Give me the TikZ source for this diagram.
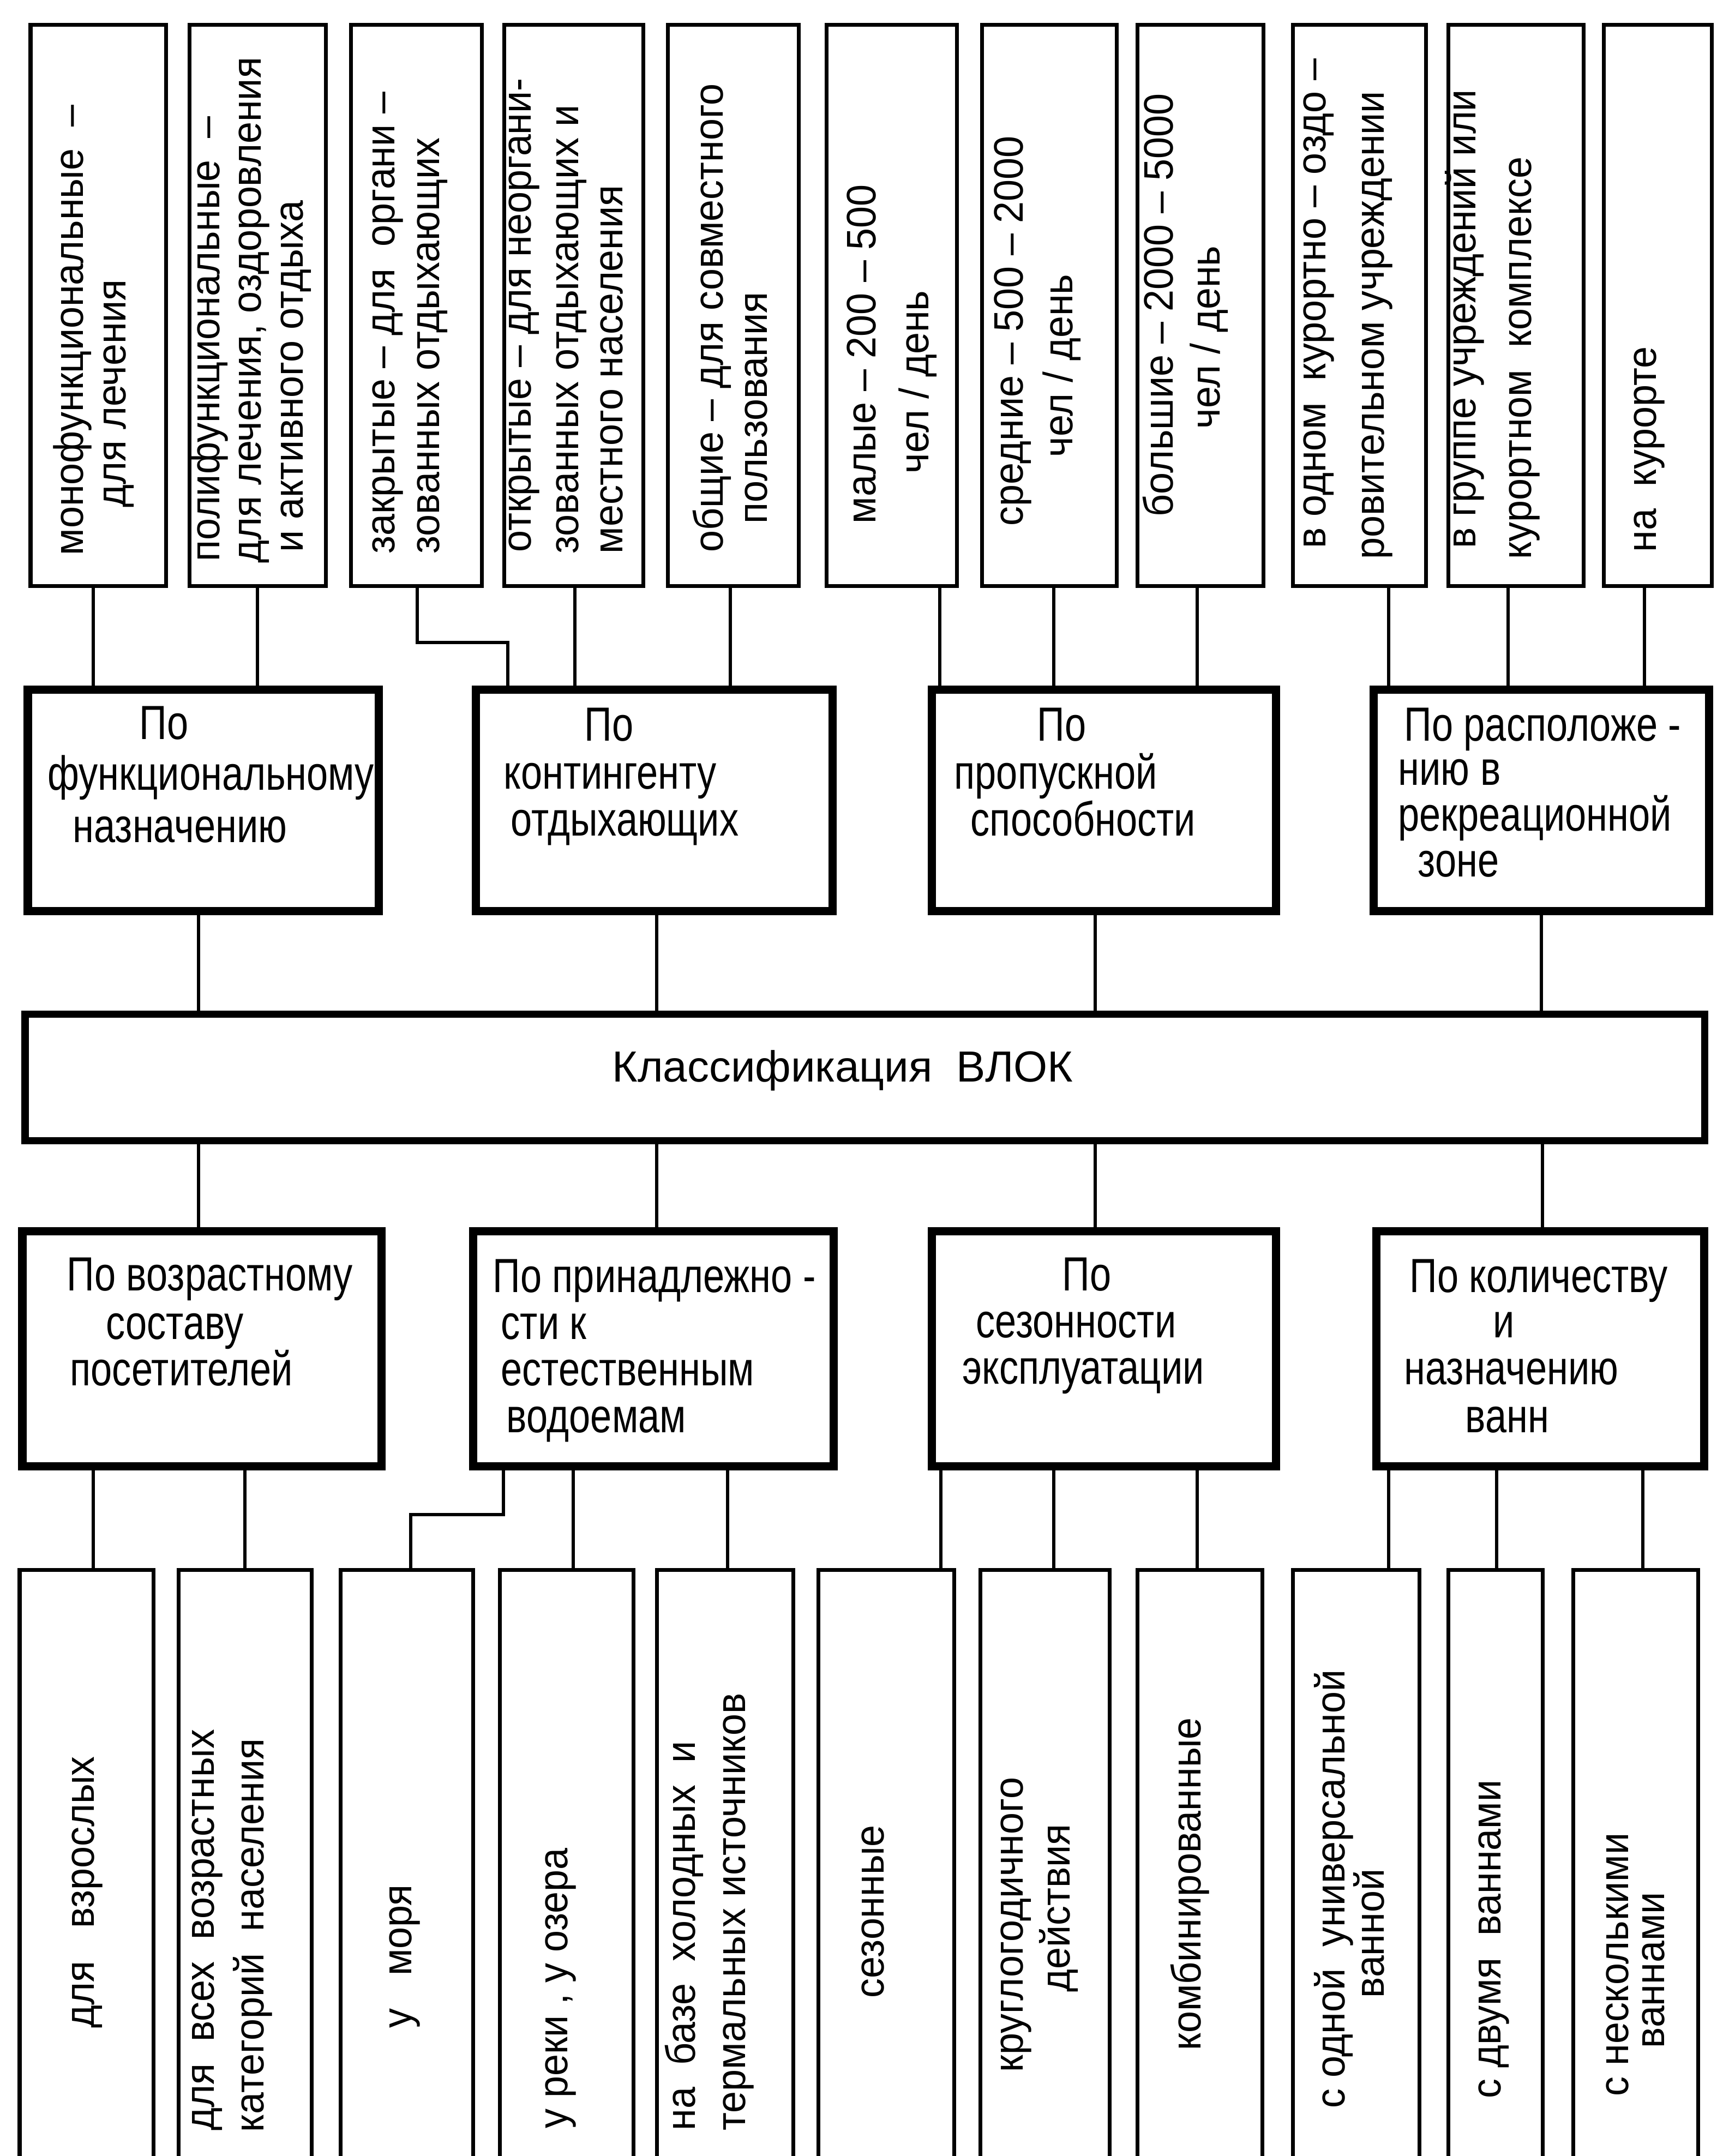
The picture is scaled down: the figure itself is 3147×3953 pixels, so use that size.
\documentclass[tikz,border=0pt]{standalone}
\usepackage{fontspec}
\setmainfont{Liberation Sans}
\newfontfamily\lblfont{Liberation Sans}[FakeStretch=0.95]
\newfontfamily\catfont{Liberation Sans}[FakeStretch=0.80]
\usetikzlibrary{fit}

\tikzset{
  thinbox/.style={draw, line width=0.07cm, inner sep=0pt, outer sep=0pt},
  catbox/.style={draw, line width=0.15cm, inner sep=0pt, outer sep=0pt},
  mainbox/.style={draw, line width=0.13cm, inner sep=0pt, outer sep=0pt},
  link/.style={line width=0.065cm},
  vtext/.style={rotate=90, anchor=mid west, inner sep=0pt,
    font=\lblfont\fontsize{21.5}{26}\selectfont},
  ctext/.style={anchor=base west, inner sep=0pt,
    font=\catfont\fontsize{25}{30}\selectfont},
  mtext/.style={anchor=base west, inner sep=0pt,
    font=\fontsize{22.7}{27}\selectfont},
}

% box spanning x1..x2, y1..y2
\newcommand\boxat[6]{\node[#1, fit={(#3,#5) (#4,#6)}] (#2) {};}
% straight vertical link at abscissa #3
\newcommand\vlink[3]{%
  \coordinate (x-#1-#2) at (#3,0);
  \draw[link] (#1.south -| x-#1-#2) -- (#2.north -| x-#1-#2);}

\begin{document}
\begin{tikzpicture}[x=0.01cm, y=-0.01cm]
\useasboundingbox (0,0) rectangle (3147,3953);
\clip (0,0) rectangle (3147,3953);

% ---------- upper row of subtypes ----------
\boxat{thinbox}{T1}{56}{304}{45}{1074}
\boxat{thinbox}{T2}{347}{597}{45}{1074}
\boxat{thinbox}{T3}{643}{883}{45}{1074}
\boxat{thinbox}{T4}{924}{1179}{45}{1074}
\boxat{thinbox}{T5}{1224}{1464}{45}{1074}
\boxat{thinbox}{T6}{1515}{1754}{45}{1074}
\boxat{thinbox}{T7}{1800}{2047}{45}{1074}
\boxat{thinbox}{T8}{2085}{2316}{45}{1074}
\boxat{thinbox}{T9}{2370}{2614}{45}{1074}
\boxat{thinbox}{T10}{2655}{2903}{45}{1074}
\boxat{thinbox}{T11}{2940}{3138}{45}{1074}

\node[vtext] (T1a) at (143,1019) {монофункциональные \ –};
\node[vtext] (T1b) at (221,931) {для лечения};
\node[vtext] (T2a) at (393,1030) {полифункциональные \ –};
\node[vtext] (T2b) at (469,1033) {для лечения, оздоровления};
\node[vtext] (T2c) at (546,1013) {и активного отдыха};
\node[vtext] (T3a) at (714,1016) {закрытые – для \ органи –};
\node[vtext] (T3b) at (796,1016) {зованных отдыхающих};
\node[vtext] (T4a) at (964,1013) {открытые – для неоргани-};
\node[vtext] (T4b) at (1051,1016) {зованных отдыхающих и};
\node[vtext] (T4c) at (1132,1016) {местного населения};
\node[vtext] (T5a) at (1316,1013) {общие – для совместного};
\node[vtext] (T5b) at (1397,961) {пользования};
\node[vtext] (T6a) at (1596,961) {малые – 200 – 500};
\node[vtext] (T6b) at (1693,869) {чел / день};
\node[vtext] (T7a) at (1866,965) {средние – 500 – 2000};
\node[vtext] (T7b) at (1957,839) {чел / день};
\node[vtext] (T8a) at (2141,948) {большие – 2000 – 5000};
\node[vtext] (T8b) at (2227,787) {чел / день};
\node[vtext] (T9a) at (2421,1006) {в одном \ курортно – оздо –};
\node[vtext] (T9b) at (2528,1026) {ровительном учреждении};
\node[vtext] (T10a) at (2696,1006) {в группе учреждений или};
\node[vtext] (T10b) at (2798,1026) {курортном \ комплексе};
\node[vtext] (T11a) at (3027,1013) {на \ курорте};

% ---------- upper classification criteria ----------
\boxat{catbox}{A}{51}{694}{1264}{1670}
\boxat{catbox}{B}{872}{1526}{1264}{1670}
\boxat{catbox}{C}{1708}{2339}{1264}{1670}
\boxat{catbox}{D}{2518}{3133}{1264}{1670}

\node[ctext] (A1) at (255,1355) {По};
\node[ctext] (A2) at (87,1448) {функциональному};
\node[ctext] (A3) at (133,1544) {назначению};
\node[ctext] (B1) at (1071,1358) {По};
\node[ctext] (B2) at (923,1446) {контингенту};
\node[ctext] (B3) at (936,1532) {отдыхающих};
\node[ctext] (C1) at (1901,1358) {По};
\node[ctext] (C2) at (1749,1446) {пропускной};
\node[ctext] (C3) at (1779,1532) {способности};
\node[ctext] (D1) at (2574,1358) {По расположе -};
\node[ctext] (D2) at (2563,1439) {нию в};
\node[ctext] (D3) at (2563,1523) {рекреационной};
\node[ctext] (D4) at (2599,1607) {зоне};

% ---------- central box ----------
\boxat{mainbox}{M}{46}{3125}{1859}{2091}
\node[mtext] (Mt) at (1122,1983) {Классификация \ ВЛОК};

% ---------- lower classification criteria ----------
\boxat{catbox}{E}{41}{699}{2257}{2688}
\boxat{catbox}{F}{867}{1528}{2257}{2688}
\boxat{catbox}{G}{1708}{2339}{2257}{2688}
\boxat{catbox}{H}{2523}{3124}{2257}{2688}

\node[ctext] (E1) at (122,2366) {По возрастному};
\node[ctext] (E2) at (194,2455) {составу};
\node[ctext] (E3) at (128,2540) {посетителей};
\node[ctext] (F1) at (903,2369) {По принадлежно -};
\node[ctext] (F2) at (918,2455) {сти к};
\node[ctext] (F3) at (918,2540) {естественным};
\node[ctext] (F4) at (928,2626) {водоемам};
\node[ctext] (G1) at (1947,2366) {По};
\node[ctext] (G2) at (1789,2452) {сезонности};
\node[ctext] (G3) at (1764,2537) {эксплуатации};
\node[ctext] (H1) at (2584,2369) {По количеству};
\node[ctext] (H2) at (2737,2452) {и};
\node[ctext] (H3) at (2574,2538) {назначению};
\node[ctext] (H4) at (2686,2626) {ванн};

% ---------- lower row of subtypes ----------
\boxat{thinbox}{b1}{36}{281}{2878}{4010}
\boxat{thinbox}{b2}{327}{571}{2878}{4010}
\boxat{thinbox}{b3}{624}{867}{2878}{4010}
\boxat{thinbox}{b4}{916}{1161}{2878}{4010}
\boxat{thinbox}{b5}{1204}{1454}{2878}{4010}
\boxat{thinbox}{b6}{1500}{1749}{2878}{4010}
\boxat{thinbox}{b7}{1797}{2034}{2878}{4010}
\boxat{thinbox}{b8}{2085}{2314}{2878}{4010}
\boxat{thinbox}{b9}{2370}{2602}{2878}{4010}
\boxat{thinbox}{b10}{2655}{2828}{2878}{4010}
\boxat{thinbox}{b11}{2884}{3113}{2878}{4010}

\node[vtext] (b1a) at (163,3719) {для \ \ взрослых};
\node[vtext] (b2a) at (383,3907) {для \ всех \ возрастных};
\node[vtext] (b2b) at (474,3910) {категорий \ населения};
\node[vtext] (b3a) at (745,3719) {у \ \ моря};
\node[vtext] (b4a) at (1031,3903) {у реки , у озера};
\node[vtext] (b5a) at (1265,3907) {на \ базе \ холодных \ и};
\node[vtext] (b5b) at (1357,3907) {термальных источников};
\node[vtext] (b6a) at (1611,3664) {сезонные};
\node[vtext] (b7a) at (1866,3800) {круглогодичного};
\node[vtext] (b7b) at (1952,3653) {действия};
\node[vtext] (b8a) at (2192,3760) {комбинированные};
\node[vtext] (b9a) at (2456,3866) {с одной \ универсальной};
\node[vtext] (b9b) at (2528,3664) {ванной};
\node[vtext] (b10a) at (2742,3848) {с двумя \ ваннами};
\node[vtext] (b11a) at (2976,3844) {с несколькими};
\node[vtext] (b11b) at (3042,3756) {ваннами};

% ---------- links: upper row -> criteria ----------
\vlink{T1}{A}{171}
\vlink{T2}{A}{472}
\coordinate (bendT3a) at (765,1178);
\coordinate (bendT3b) at (931,1178);
\draw[link] (T3.south -| bendT3a) -- (bendT3a) -- (bendT3b) -- (B.north -| bendT3b);
\vlink{T4}{B}{1054}
\vlink{T5}{B}{1339}
\vlink{T6}{C}{1723}
\vlink{T7}{C}{1932}
\vlink{T8}{C}{2195}
\vlink{T9}{D}{2546}
\vlink{T10}{D}{2765}
\vlink{T11}{D}{3015}

% ---------- links: criteria <-> central box ----------
\vlink{A}{M}{364}
\vlink{B}{M}{1204}
\vlink{C}{M}{2008}
\vlink{D}{M}{2826}
\vlink{M}{E}{364}
\vlink{M}{F}{1204}
\vlink{M}{G}{2008}
\vlink{M}{H}{2828}

% ---------- links: criteria -> lower row ----------
\vlink{E}{b1}{171}
\vlink{E}{b2}{449}
\coordinate (bendFa) at (923,2777);
\coordinate (bendFb) at (753,2777);
\draw[link] (F.south -| bendFa) -- (bendFa) -- (bendFb) -- (b3.north -| bendFb);
\vlink{F}{b4}{1051}
\vlink{F}{b5}{1334}
\vlink{G}{b6}{1725}
\vlink{G}{b7}{1932}
\vlink{G}{b8}{2195}
\vlink{H}{b9}{2546}
\vlink{H}{b10}{2744}
\vlink{H}{b11}{3012}
\end{tikzpicture}
\end{document}
